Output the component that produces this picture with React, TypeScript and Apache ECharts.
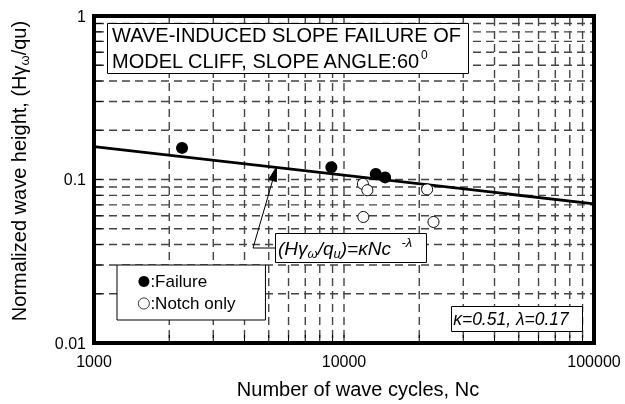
import React, { useEffect, useRef } from "react";
import * as echarts from "echarts";

// ---- data ----
const failureN = [2250, 8900, 13400, 14600];
const failureH = [0.156, 0.119, 0.108, 0.103];
const notchN = [11900, 12400, 11950, 21500, 22800];
const notchH = [0.094, 0.086, 0.059, 0.087, 0.055];
const fitN = [1000, 100000];
const fitH = [0.159, 0.071];

const xTickLabels = [1000, 10000, 100000];
const yTickLabels = [0.01, 0.1, 1];
const xGridValues = [2000, 3000, 4000, 5000, 6000, 7000, 8000, 9000, 10000, 20000, 30000, 40000, 50000, 60000, 70000, 80000, 90000];
const yGridValues = [0.02, 0.03, 0.04, 0.05, 0.06, 0.07, 0.08, 0.09, 0.1, 0.2, 0.3, 0.4, 0.5, 0.6, 0.7, 0.8, 0.9];

const X_MIN = 1000, X_MAX = 100000, Y_MIN = 0.01, Y_MAX = 1;
const FONT = "'Liberation Sans', Arial, sans-serif";

export default function App() {
  const ref = useRef<HTMLDivElement>(null);
  useEffect(() => {
    if (!ref.current) return;
    const chart = echarts.init(ref.current, null, { renderer: "svg" });
    const fmt = (list: number[]) => (v: number) => {
      const n = Number(Number(v).toPrecision(3));
      return list.some((t) => Math.abs(t - n) / t < 1e-6) ? String(n) : "";
    };
    const gridStyle = { stroke: "#444", lineWidth: 1.4, lineDash: [8, 5] };
    const option: any = {
      animation: false,
      textStyle: { fontFamily: FONT },
      grid: {
        left: 94, top: 16, width: 500, height: 327,
        show: true, borderColor: "#000", borderWidth: 4, backgroundColor: "transparent",
      },
      xAxis: {
        type: "log", logBase: 10, min: X_MIN, max: X_MAX,
        axisLine: { show: false }, axisTick: { show: false }, splitLine: { show: false },
        axisLabel: { fontSize: 16, color: "#000", margin: 10, fontFamily: FONT, formatter: fmt(xTickLabels) },
      },
      yAxis: {
        type: "log", logBase: 10, min: Y_MIN, max: Y_MAX,
        axisLine: { show: false }, axisTick: { show: false }, splitLine: { show: false },
        axisLabel: { fontSize: 16, color: "#000", margin: 8, fontFamily: FONT, formatter: fmt(yTickLabels) },
      },
      legend: {
        orient: "vertical", left: 117, top: 265,
        padding: [8, 30, 8, 21], itemGap: 5, itemWidth: 11, itemHeight: 11,
        borderColor: "#000", borderWidth: 1, backgroundColor: "#fff",
        textStyle: { fontSize: 17, color: "#000", fontFamily: FONT, lineHeight: 17, padding: [0, 0, 0, -4] },
        formatter: (name: string) => ":" + name,
        data: [
          { name: "Failure", icon: "circle" },
          { name: "Notch only", icon: "circle", itemStyle: { color: "#fff", borderColor: "#000", borderWidth: 0.8 } },
        ],
      },
      series: [
        {
          type: "custom", name: "vgrid", silent: true, z: 1,
          data: xGridValues.map((v) => [v, Y_MIN]),
          encode: { x: 0, y: 1 },
          renderItem: (_p: any, api: any) => {
            const v = api.value(0);
            const top = api.coord([v, Y_MAX]);
            const bot = api.coord([v, Y_MIN]);
            return {
              type: "group",
              children: [
                { type: "line", shape: { x1: top[0], y1: top[1] + 2, x2: bot[0], y2: bot[1] - 2 }, style: gridStyle },
                { type: "line", shape: { x1: bot[0], y1: bot[1] - 2, x2: bot[0], y2: bot[1] - 8 }, style: { stroke: "#000", lineWidth: 1 } },
              ],
            };
          },
        },
        {
          type: "custom", name: "hgrid", silent: true, z: 1,
          data: yGridValues.map((v) => [X_MIN, v]),
          encode: { x: 0, y: 1 },
          renderItem: (_p: any, api: any) => {
            const v = api.value(1);
            const l = api.coord([X_MIN, v]);
            const r = api.coord([X_MAX, v]);
            return {
              type: "group",
              children: [
                { type: "line", shape: { x1: l[0] + 2, y1: l[1], x2: r[0] - 2, y2: r[1] }, style: gridStyle },
                { type: "line", shape: { x1: l[0] + 2, y1: l[1], x2: l[0] + 8, y2: l[1] }, style: { stroke: "#000", lineWidth: 1 } },
              ],
            };
          },
        },
        {
          type: "line", name: "fit", silent: true, z: 3,
          data: fitN.map((n, i) => [n, fitH[i]]),
          showSymbol: false, symbol: "none",
          lineStyle: { color: "#000", width: 2.8 },
        },
        {
          type: "scatter", name: "Failure", z: 5,
          data: failureN.map((n, i) => [n, failureH[i]]),
          symbol: "circle", symbolSize: 12,
          itemStyle: { color: "#000", opacity: 1 },
        },
        {
          type: "scatter", name: "Notch only", z: 5,
          data: notchN.map((n, i) => [n, notchH[i]]),
          symbol: "circle", symbolSize: 11,
          itemStyle: { color: "#fff", borderColor: "#000", borderWidth: 1, opacity: 1 },
        },
      ],
      graphic: [
        // title box
        { type: "rect", z: 100, shape: { x: 107.5, y: 23.5, width: 361, height: 50 }, style: { fill: "#fff", stroke: "#000", lineWidth: 1 } },
        {
          type: "text", z: 101, x: 112, y: 35,
          style: { text: "WAVE-INDUCED SLOPE FAILURE OF", fontSize: 20, fontFamily: FONT, fill: "#000", verticalAlign: "middle" },
        },
        {
          type: "text", z: 101, x: 112, y: 61,
          style: {
            text: "{n|MODEL CLIFF, SLOPE ANGLE:60}{p|0}",
            verticalAlign: "middle",
            rich: {
              n: { fontSize: 20, fontFamily: FONT, fill: "#000", lineHeight: 24 },
              p: { fontSize: 12, fontFamily: FONT, fill: "#000", lineHeight: 14, verticalAlign: "top" },
            },
          },
        },
        // formula box + arrow
        { type: "polyline", z: 100, shape: { points: [[275, 248], [253, 248], [272.6, 180.5]] }, style: { stroke: "#000", lineWidth: 1, fill: null } },
        { type: "polygon", z: 100, shape: { points: [[276.5, 167], [276.4, 181.6], [268.8, 179.4]] }, style: { fill: "#000", stroke: "#000", lineWidth: 1 } },
        { type: "rect", z: 100, shape: { x: 275.5, y: 233.5, width: 151, height: 29 }, style: { fill: "#fff", stroke: "#000", lineWidth: 1 } },
        {
          type: "text", z: 101, x: 278, y: 248,
          style: {
            text: "{n|(H}{n|γ}{s|ω}{n|/q}{s|u}{n|)=κNc  }{p|-λ}",
            verticalAlign: "middle",
            rich: {
              n: { fontSize: 19, fontStyle: "italic", fontFamily: FONT, fill: "#000", lineHeight: 24 },
              s: { fontSize: 13, fontStyle: "italic", fontFamily: FONT, fill: "#000", lineHeight: 14, verticalAlign: "bottom" },
              p: { fontSize: 13, fontStyle: "italic", fontFamily: FONT, fill: "#000", lineHeight: 14, verticalAlign: "top" },
            },
          },
        },
        // parameter box
        { type: "rect", z: 100, shape: { x: 451.5, y: 306.5, width: 131, height: 25 }, style: { fill: "#fff", stroke: "#000", lineWidth: 1 } },
        {
          type: "text", z: 101, x: 511, y: 319,
          style: { text: "κ=0.51, λ=0.17", fontSize: 17.5, fontStyle: "italic", fontFamily: FONT, fill: "#000", align: "center", verticalAlign: "middle" },
        },
        // axis titles
        {
          type: "text", z: 101, x: 358, y: 389,
          style: { text: "Number of wave cycles, Nc", fontSize: 20, fontFamily: FONT, fill: "#000", align: "center", verticalAlign: "middle" },
        },
        {
          type: "text", z: 101, x: 19, y: 171, rotation: Math.PI / 2,
          style: {
            text: "{n|Normalized wave height, (H}{n|γ}{s|ω}{n|/qu)}",
            align: "center", verticalAlign: "middle",
            rich: {
              n: { fontSize: 20, fontFamily: FONT, fill: "#000", lineHeight: 24 },
              s: { fontSize: 13, fontFamily: FONT, fill: "#000", lineHeight: 14, verticalAlign: "bottom" },
            },
          },
        },
      ],
    };
    chart.setOption(option);
    return () => chart.dispose();
  }, []);
  return <div ref={ref} style={{ position: "fixed", left: 0, top: 0, width: 625, height: 404 }} />;
}
